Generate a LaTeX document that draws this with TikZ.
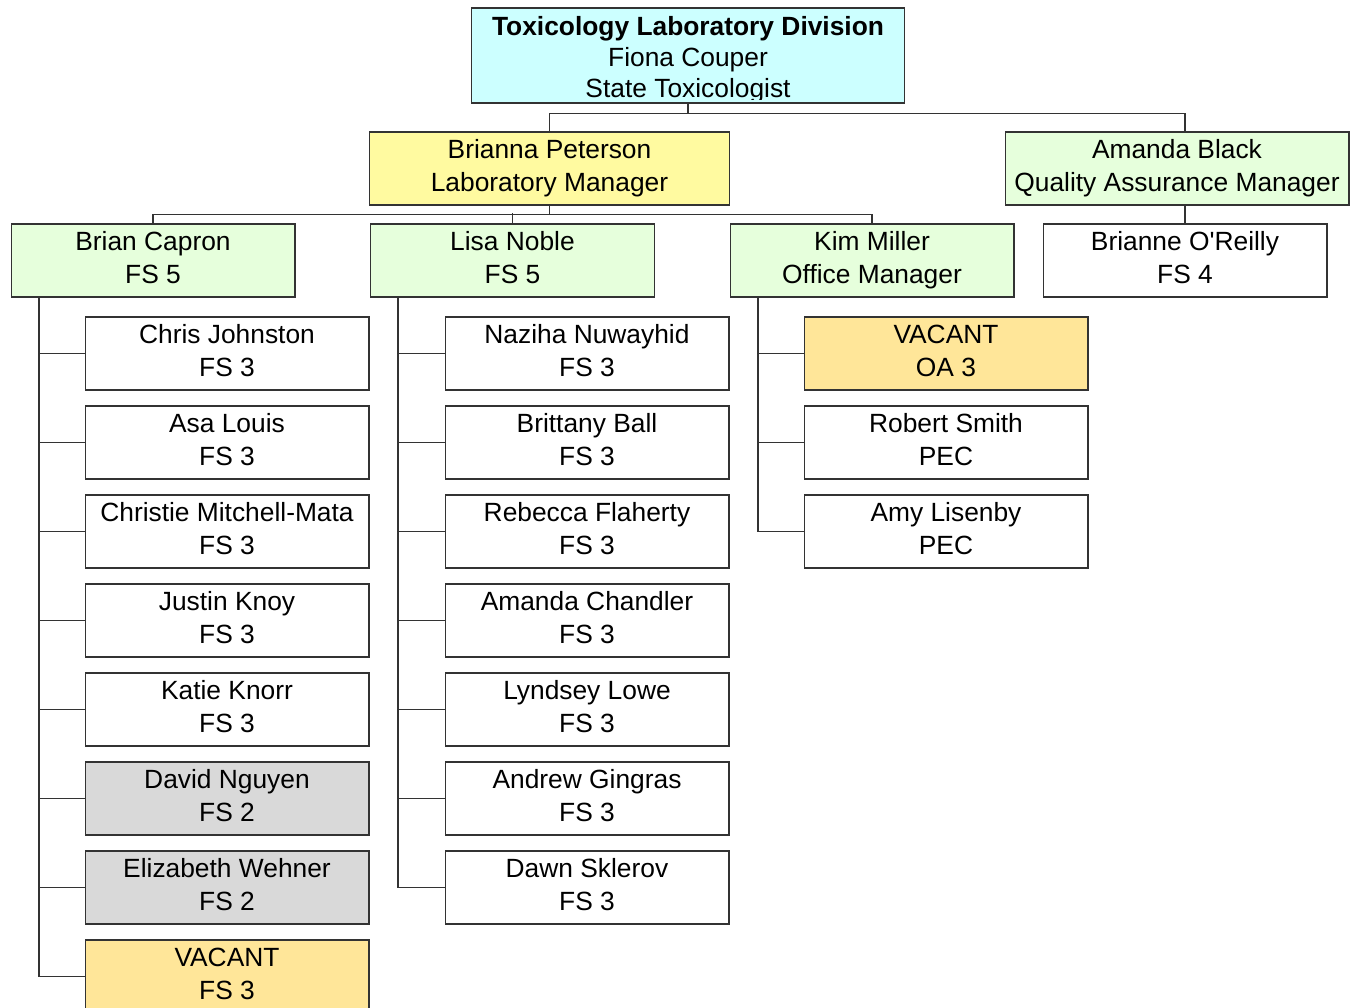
\documentclass[tikz,border=0pt]{standalone}
\usepackage{fontspec}
\setmainfont{Liberation Sans}[Ligatures=TeXOff]
\definecolor{divcyan}{RGB}{204,255,255}
\definecolor{mgryellow}{RGB}{255,250,160}
\definecolor{leadgreen}{RGB}{230,255,220}
\definecolor{tempgray}{RGB}{217,217,217}
\definecolor{vacyellow}{RGB}{255,230,153}
\tikzset{
  post/.style={draw=black!80, line width=0.6pt, align=center, inner sep=0pt,
    minimum width=5.68cm, minimum height=1.46cm,
    text height=26pt, text depth=0pt,
    font=\fontsize{15}{18.5}\selectfont},
  link/.style={draw=black!80, line width=0.6pt}
}
\begin{document}
\begin{tikzpicture}[x=0.02cm,y=-0.02cm]
\useasboundingbox (0,0) rectangle (1350,1008);

% top of the division, its last line cut short
\node[post, fill=divcyan, minimum width=8.68cm, minimum height=1.9cm] (div) at (688,55.5) {};
\begin{scope}
\clip (471,8) rectangle (905,99.5);
\node[post, draw=none, minimum width=8.68cm, minimum height=1.9cm,
  text height=48pt, font=\fontsize{15}{17.8}\selectfont] (divtext) at (div.center)
  {\textbf{Toxicology Laboratory Division}\\Fiona Couper\\State Toxicologist};
\end{scope}

\node[post, fill=mgryellow, minimum width=7.22cm] (lab) at (549.5,168.5)
  {Brianna Peterson\\Laboratory Manager};
\node[post, fill=leadgreen, minimum width=6.88cm] (qa) at (1177,168.5)
  {Amanda Black\\Quality Assurance Manager};
\node[post] (qa1) at (1185,260.5) {Brianne O'Reilly\\FS 4};

\draw[link] (div.south) -- ++(0,10) -| (lab.north);
\draw[link] (div.south) ++(0,10) -| (1185,132);
\draw[link] (1185,205) -- (qa1.north);

% the three sections
\node[post, fill=leadgreen] (brian) at (153,260.5) {Brian Capron\\FS 5};
\node[post, fill=leadgreen] (lisa) at (512.5,260.5) {Lisa Noble\\FS 5};
\node[post, fill=leadgreen] (kim) at (872,260.5) {Kim Miller\\Office Manager};

\draw[link] (lab.south) -- ++(0,9) -| (brian.north);
\draw[link] (lab.south) ++(0,9) -| (kim.north);
\draw[link] (lisa.north) -- ++(0,-10);

% Brian Capron's group
\node[post] (bc1) at (227,353.5) {Chris Johnston\\FS 3};
\node[post] (bc2) at (227,442.5) {Asa Louis\\FS 3};
\node[post] (bc3) at (227,531.5) {Christie Mitchell-Mata\\FS 3};
\node[post] (bc4) at (227,620.5) {Justin Knoy\\FS 3};
\node[post] (bc5) at (227,709.5) {Katie Knorr\\FS 3};
\node[post, fill=tempgray] (bc6) at (227,798.5) {David Nguyen\\FS 2};
\node[post, fill=tempgray] (bc7) at (227,887.5) {Elizabeth Wehner\\FS 2};
\node[post, fill=vacyellow] (bc8) at (227,976.5) {VACANT\\FS 3};

\coordinate (bspine) at (39,297);
\draw[link] (bspine) |- (bc8.west);
\foreach \n in {1,...,7}
  \draw[link] (bspine |- bc\n.west) -- (bc\n.west);

% Lisa Noble's group
\node[post] (ln1) at (587,353.5) {Naziha Nuwayhid\\FS 3};
\node[post] (ln2) at (587,442.5) {Brittany Ball\\FS 3};
\node[post] (ln3) at (587,531.5) {Rebecca Flaherty\\FS 3};
\node[post] (ln4) at (587,620.5) {Amanda Chandler\\FS 3};
\node[post] (ln5) at (587,709.5) {Lyndsey Lowe\\FS 3};
\node[post] (ln6) at (587,798.5) {Andrew Gingras\\FS 3};
\node[post] (ln7) at (587,887.5) {Dawn Sklerov\\FS 3};

\coordinate (lspine) at (398,297);
\draw[link] (lspine) |- (ln7.west);
\foreach \n in {1,...,6}
  \draw[link] (lspine |- ln\n.west) -- (ln\n.west);

% Kim Miller's group
\node[post, fill=vacyellow] (km1) at (946,353.5) {VACANT\\OA 3};
\node[post] (km2) at (946,442.5) {Robert Smith\\PEC};
\node[post] (km3) at (946,531.5) {Amy Lisenby\\PEC};

\coordinate (kspine) at (758,297);
\draw[link] (kspine) |- (km3.west);
\foreach \n in {1,2}
  \draw[link] (kspine |- km\n.west) -- (km\n.west);

\end{tikzpicture}
\end{document}
